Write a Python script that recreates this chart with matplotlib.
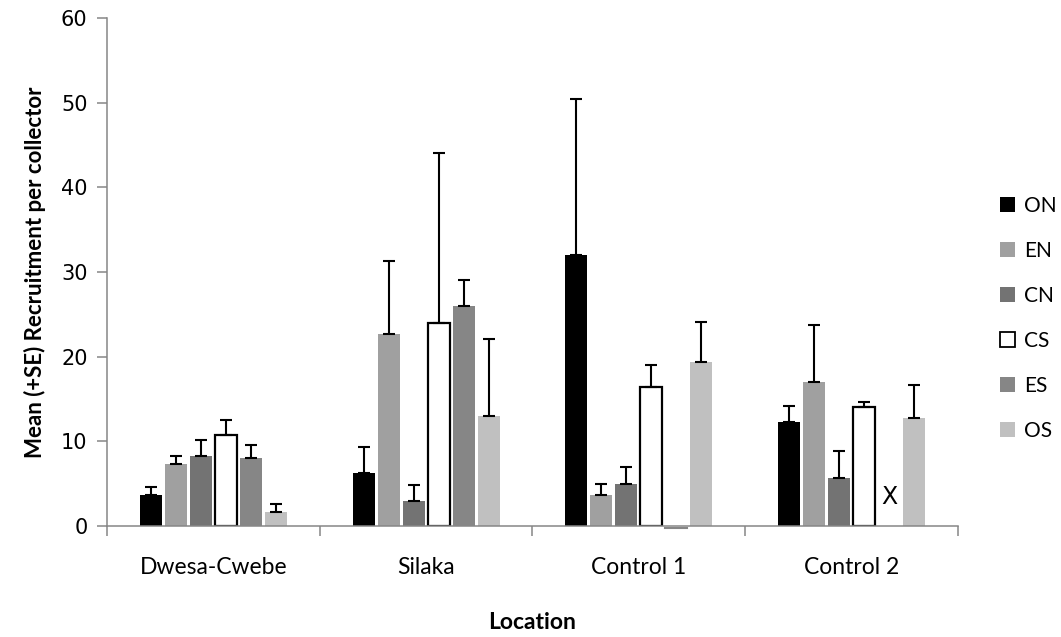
import numpy as np
import matplotlib
matplotlib.use('Agg')
import matplotlib.pyplot as plt
from matplotlib.patches import Patch

locations = ["Dwesa-Cwebe", "Silaka", "Control 1", "Control 2"]
series = ["ON", "EN", "CN", "CS", "ES", "OS"]

# mean recruitment per collector and the standard error above it
ON = [3.7, 6.3, 32.0, 12.3]
EN = [7.3, 22.7, 3.7, 17.0]
CN = [8.3, 3.0, 5.0, 5.7]
CS = [10.7, 24.0, 16.4, 14.0]
ES = [8.0, 26.0, 0.0, np.nan]   # no ES collectors at Control 2
OS = [1.6, 13.0, 19.4, 12.7]

ON_se = [0.9, 3.0, 18.4, 1.9]
EN_se = [1.0, 8.6, 1.3, 6.7]
CN_se = [1.9, 1.8, 2.0, 3.2]
CS_se = [1.8, 20.1, 2.6, 0.6]
ES_se = [1.6, 3.0, 0.0, np.nan]
OS_se = [1.0, 9.1, 4.7, 4.0]

means = [ON, EN, CN, CS, ES, OS]
errs = [ON_se, EN_se, CN_se, CS_se, ES_se, OS_se]
fills = ["#000000", "#a0a0a0", "#737373", "#ffffff", "#868686", "#c0c0c0"]

plt.rcParams['font.family'] = ['Lato', 'DejaVu Sans']
axis_grey = "#868686"

fig = plt.figure(figsize=(10.61, 6.37), dpi=100)
ax = fig.add_axes([0.1008, 0.1743, 0.8021, 0.7974])

x = np.arange(len(locations))
pitch = 0.1175
width = 0.103
for i, (name, m, e, c) in enumerate(zip(series, means, errs, fills)):
    pos = x + (i - 2.5) * pitch
    m = np.array(m, dtype=float)
    e = np.array(e, dtype=float)
    if name == "CS":
        ax.bar(pos, m, width, color=c, edgecolor="black", linewidth=1.6, zorder=2)
    else:
        ax.bar(pos, m, width, color=c, linewidth=0, zorder=2)
    ok = ~np.isnan(m) & (e > 0)
    ax.errorbar(pos[ok], m[ok], yerr=[np.zeros(ok.sum()), e[ok]], fmt="none",
                ecolor="black", elinewidth=1.5, capsize=4.3, capthick=1.5, zorder=3)
    # zero-height bars still leave a dash on the baseline
    zero = m == 0
    for p in pos[zero]:
        ax.plot([p - width / 2, p + width / 2], [-0.25, -0.25], color=c, lw=1.5,
                clip_on=False, zorder=1)
    missing = np.isnan(m)
    for p in pos[missing]:
        ax.text(p, 3.4, "X", ha="center", va="center", fontsize=17,
                family="DejaVu Sans")

ax.set_xlim(-0.5, len(locations) - 0.5)
ax.set_ylim(0, 60)
ax.set_yticks(np.arange(0, 61, 10))
ax.set_yticklabels([str(v) for v in range(0, 61, 10)], family="DejaVu Sans",
                   fontsize=15)
ax.set_xticks(x)
ax.set_xticklabels(locations, fontsize=16.5)
ax.set_xticks(np.arange(-0.5, len(locations)), minor=True)
ax.tick_params(axis="x", which="major", length=0, pad=22)
ax.tick_params(axis="x", which="minor", length=7, width=1.1, color=axis_grey,
               direction="out")
ax.tick_params(axis="y", length=7, width=1.1, color=axis_grey, direction="out",
               pad=7)

for side in ["top", "right"]:
    ax.spines[side].set_visible(False)
for side in ["left", "bottom"]:
    ax.spines[side].set_color(axis_grey)
    ax.spines[side].set_linewidth(1.1)

ax.set_ylabel("Mean (+SE) Recruitment per collector", fontsize=16,
              fontweight="bold", labelpad=11)
ax.set_xlabel("Location", fontsize=16.5, fontweight="bold", labelpad=25)

handles = [Patch(facecolor=c, edgecolor="black" if n == "CS" else c,
                 linewidth=1.3 if n == "CS" else 0) for n, c in zip(series, fills)]
ax.legend(handles, series, loc="upper left", bbox_to_anchor=(0.9425, 0.692),
          bbox_transform=fig.transFigure, frameon=False, fontsize=15,
          handlelength=0.72, handleheight=0.72, handletextpad=0.45,
          labelspacing=1.2, borderpad=0, borderaxespad=0)

fig.savefig("out.png", dpi=100)
